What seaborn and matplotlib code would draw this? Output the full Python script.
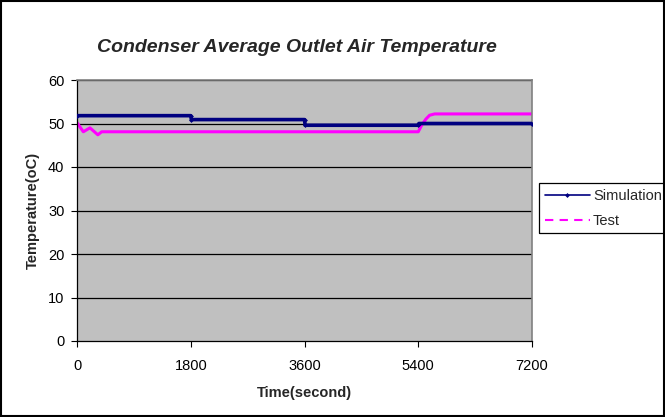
import matplotlib
matplotlib.use("Agg")
import matplotlib.pyplot as plt
import seaborn as sns
import pandas as pd
from matplotlib.patches import Rectangle
from matplotlib.lines import Line2D

sim_time = [0, 1800, 1810, 3600, 3610, 5400, 5410, 7200]
sim_temp = [51.8, 51.8, 50.9, 50.9, 49.6, 49.6, 50.0, 50.0]

test_time = [0, 100, 205, 330, 390, 5400, 5450, 5520, 5580, 5660, 7200]
test_temp = [50.2, 48.1, 49.0, 47.4, 48.1, 48.1, 49.5, 51.0, 51.9, 52.2, 52.2]

x_ticks = [0, 1800, 3600, 5400, 7200]
y_ticks = [0, 10, 20, 30, 40, 50, 60]

sim_df = pd.DataFrame({"Time": sim_time, "Temp": sim_temp})
test_df = pd.DataFrame({"Time": test_time, "Temp": test_temp})

sns.set_style("white")
plt.rcParams["font.family"] = ["Liberation Sans", "DejaVu Sans"]

fig = plt.figure(figsize=(6.65, 4.17), dpi=100)
ax = fig.add_axes([77 / 665, 1 - 341 / 417, 455 / 665, 261 / 417])
ax.set_facecolor("#C0C0C0")

for y in y_ticks[1:]:
    ax.axhline(y, color="black", lw=0.9, zorder=1)

sns.lineplot(data=sim_df, x="Time", y="Temp", ax=ax, color="#000080", lw=2.6,
             marker="D", markersize=2.5, markeredgewidth=0, zorder=3)
sns.lineplot(data=test_df, x="Time", y="Temp", ax=ax, color="#FF00FF", lw=2.2,
             zorder=2)

ax.set_xlim(0, 7200)
ax.set_ylim(0, 60)
ax.set_xticks(x_ticks)
ax.set_yticks(y_ticks)
ax.tick_params(axis="both", which="both", direction="out", length=4, width=0.8,
               labelsize=10.5, colors="black", bottom=True, left=True, pad=5)
ax.tick_params(axis="x", pad=9)
for s in ["top", "right"]:
    ax.spines[s].set_color("#808080")
    ax.spines[s].set_linewidth(1.2)
for s in ["left", "bottom"]:
    ax.spines[s].set_color("black")
    ax.spines[s].set_linewidth(0.9)

ax.set_xlabel("Time(second)", fontsize=10.5, fontweight="bold", labelpad=9)
ax.set_ylabel("Temperature(oC)", fontsize=10.5, fontweight="bold", labelpad=6)
fig.text(297 / 665, 1 - 47 / 417, "Condenser Average Outlet Air Temperature",
         ha="center", va="center", fontsize=14, fontweight="bold", style="italic")

handles = [
    Line2D([], [], color="#000080", lw=1.2, marker="D", markersize=2.5, markeredgewidth=0),
    Line2D([], [], color="#FF00FF", lw=1.5, linestyle=(0, (4, 3))),
]
labels = ["Simulation", "Test"]
leg = fig.legend(handles, labels, loc="upper left", bbox_to_anchor=(539 / 665, 1 - 183 / 417),
                 fontsize=10.5, frameon=False,
                 borderpad=0.4, labelspacing=0.75, handlelength=3.1, handletextpad=0.2,
                 borderaxespad=0)
# legend frame, running past the right edge of the figure as in the reference
fig.patches.append(Rectangle((539 / 665, 1 - 233 / 417), 0.3, 50 / 417,
                             transform=fig.transFigure, fill=False,
                             edgecolor="black", lw=0.9, zorder=5))

fig.patches.append(Rectangle((0.002, 0.003), 0.996, 0.994, transform=fig.transFigure,
                             fill=False, edgecolor="black", lw=1.5, zorder=10))

fig.savefig("out.png", dpi=100)
